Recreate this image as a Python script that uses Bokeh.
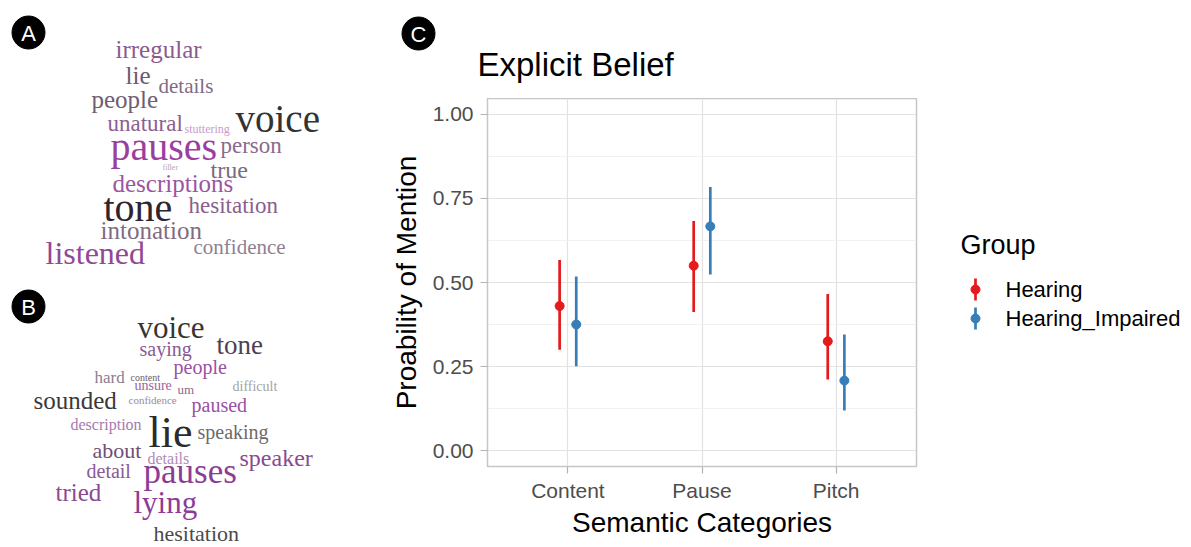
from bokeh.plotting import figure
from bokeh.models import Range1d, FixedTicker, ColumnDataSource, NumeralTickFormatter
from bokeh.transform import dodge
from bokeh.layouts import row, column
from bokeh.embed import file_html
from bokeh.resources import INLINE
from bokeh.core.properties import value

# ---------------- data ----------------
categories = ["Content", "Pause", "Pitch"]
groups = ["Hearing", "Hearing_Impaired"]
hearing_mean = [0.430, 0.550, 0.325]
hearing_low = [0.300, 0.412, 0.211]
hearing_high = [0.567, 0.683, 0.466]
impaired_mean = [0.375, 0.667, 0.208]
impaired_low = [0.251, 0.524, 0.119]
impaired_high = [0.518, 0.784, 0.345]
y_ticks = [0.0, 0.25, 0.5, 0.75, 1.0]

# word cloud A and its word weights (font px)
words_a = ["irregular", "lie", "details", "people", "unatural", "stuttering", "voice",
           "pauses", "person", "filler", "true", "descriptions", "tone", "hesitation",
           "intonation", "confidence", "listened"]
weight_a = [25, 25, 21, 25, 23, 12, 39, 40, 23, 8, 24, 25, 40, 23, 25, 21, 32]
# word cloud B
words_b = ["voice", "tone", "saying", "people", "hard", "content", "unsure", "um",
           "difficult", "sounded", "confidence", "paused", "description", "lie",
           "speaking", "about", "details", "speaker", "detail", "pauses", "tried",
           "lying", "hesitation"]
weight_b = [31, 27, 20, 20, 17, 10, 14, 13, 14, 25, 11, 20, 16, 44, 20, 22, 16, 24,
            20, 35, 25, 31, 22]

# ---------------- layout (word-cloud placement: left x, baseline y, page pixels) ----------------
pos_a_x = [115, 125, 158, 91, 107, 184, 235, 110, 220, 162, 210, 112, 103, 188, 100, 193, 45]
pos_a_y = [57, 83, 92, 107, 131, 132, 131, 159, 153, 170, 177, 191, 220, 213, 238, 253, 263]
col_a = ["#8b5b8f", "#6e5a6f", "#7f6c82", "#6d5e70", "#8c5e91", "#c79bcc", "#333333",
         "#9a3fa0", "#8a6a8e", "#b4a4b7", "#7b6a7e", "#9b55a3", "#2e2430", "#8a5e8e",
         "#7f6c82", "#8f7f92", "#8e4a96"]
pos_b_x = [137, 216, 139, 173, 94, 130, 134, 177, 232, 33, 128, 191, 70, 148, 197, 92,
           147, 239, 86, 143, 55, 133, 153]
pos_b_y = [337, 353, 355, 373, 383, 380, 390, 393, 391, 408, 403, 411, 429, 447, 438,
           457, 463, 465, 477, 483, 500, 512, 540]
col_b = ["#353535", "#4e4052", "#8b5a96", "#9b4fa3", "#8d7d91", "#6b5b6e", "#9b62a5",
         "#8b6b8f", "#a3a3a3", "#3a3a3a", "#9a8a9d", "#9b4fa3", "#a67aad", "#2b2b2b",
         "#6b6b6b", "#6e4f75", "#b38ab8", "#8a4a93", "#8a5a92", "#8c3c96", "#8b4a93",
         "#8c3c96", "#4a4a4a"]

SANS = "Liberation Sans"
SERIF = "Liberation Serif"
RED = "#e41a1c"
BLUE = "#377eb8"
H = 546
FL, FR, FT, FB = 487, 916, 98, 466          # chart frame edges on the page
MID = 0.33                                   # baseline -> text middle, in em


def mid(base, size):
    return base - MID * size


def blank(w, h, x0, x1, y0, y1):
    f = figure(width=w, height=h, x_range=Range1d(x0, x1), y_range=Range1d(y1, y0),
               x_axis_type=None, y_axis_type=None, output_backend="svg",
               toolbar_location=None, min_border=0)
    f.outline_line_color = None
    f.background_fill_color = "white"
    return f


# ---------------- left: word clouds ----------------
left = blank(378, H, 0, 378, 0, H)
for words, wts, xs, ys, cs in [(words_a, weight_a, pos_a_x, pos_a_y, col_a),
                               (words_b, weight_b, pos_b_x, pos_b_y, col_b)]:
    src = ColumnDataSource(dict(x=xs, y=[mid(y, w) for y, w in zip(ys, wts)], t=words,
                                fs=[f"{w}px" for w in wts], c=cs))
    left.text(x="x", y="y", text="t", text_font_size="fs", text_color="c",
              text_font=value(SERIF), text_align="left", text_baseline="middle",
              source=src)
left.scatter(x=[28, 28], y=[32, 306], size=33, color="black")
left.text(x=[28, 28], y=[33, 307], text=["A", "B"], text_color="white",
          text_font=value(SANS), text_font_size="22px", text_align="center",
          text_baseline="middle")

# ---------------- header above the chart: panel tag and title ----------------
header = blank(552, FT, 378, 930, 0, FT)
header.scatter(x=[418], y=[33], size=33, color="black")
header.text(x=[418], y=[34], text=["C"], text_color="white", text_font=value(SANS),
            text_font_size="22px", text_align="center", text_baseline="middle")
header.text(x=[477], y=[mid(75, 33)], text=["Explicit Belief"], text_color="black",
            text_font=value(SANS), text_font_size="33px", text_align="left",
            text_baseline="middle")

# ---------------- chart ----------------
XR = (0.4, len(categories) + 0.6)
YR = (-0.0476, 1.0476)
p = figure(width=552, height=H - FT, title=None,
           x_range=Range1d(*XR), y_range=Range1d(*YR),
           output_backend="svg", toolbar_location=None,
           min_border_left=FL - 378, min_border_right=930 - FR,
           min_border_top=0, min_border_bottom=H - FB)
p.outline_line_color = "#c6c6c6"
p.outline_line_width = 1.5
p.background_fill_color = "white"

cat_pos = list(range(1, len(categories) + 1))
p.xaxis.ticker = FixedTicker(ticks=cat_pos)
p.xaxis.major_label_overrides = {c: name for c, name in zip(cat_pos, categories)}
p.yaxis.ticker = FixedTicker(ticks=y_ticks, minor_ticks=[0.125, 0.375, 0.625, 0.875])
p.yaxis.formatter = NumeralTickFormatter(format="0.00")
p.xgrid.grid_line_color = "#e2e2e2"
p.xgrid.grid_line_width = 1.2
p.ygrid.grid_line_color = "#e2e2e2"
p.ygrid.grid_line_width = 1.2
p.ygrid.minor_grid_line_color = "#eeeeee"
p.ygrid.minor_grid_line_width = 0.8

for ax in (p.xaxis, p.yaxis):
    ax.axis_line_color = None
    ax.major_tick_line_color = "#b3b3b3"
    ax.major_tick_line_width = 1.2
    ax.major_tick_out = 7
    ax.major_tick_in = 0
    ax.minor_tick_line_color = None
    ax.major_label_text_font = SANS
    ax.major_label_text_font_size = "21px"
    ax.major_label_text_color = "#4d4d4d"
    ax.axis_label_text_font = SANS
    ax.axis_label_text_font_size = "28px"
    ax.axis_label_text_font_style = "normal"
    ax.axis_label_text_color = "black"
p.yaxis.axis_label = "Proability of Mention"
p.xaxis.axis_label = "Semantic Categories"
p.yaxis.major_label_standoff = 7
p.xaxis.major_label_standoff = 5
p.yaxis.axis_label_standoff = 8
p.xaxis.axis_label_standoff = 2

for mean, low, high, color, off in [(hearing_mean, hearing_low, hearing_high, RED, -0.062),
                                    (impaired_mean, impaired_low, impaired_high, BLUE, 0.062)]:
    src = ColumnDataSource(dict(cat=cat_pos, mean=mean, low=low, high=high))
    xd = dodge("cat", off)
    p.segment(x0=xd, y0="low", x1=xd, y1="high", line_color=color, line_width=2.7,
              source=src)
    p.scatter(x=xd, y="mean", size=9, color=color, source=src)

# ---------------- legend ----------------
lg = blank(261, H, 930, 1191, 0, H)
lg.text(x=[960], y=[mid(253, 27)], text=["Group"], text_font=value(SANS),
        text_font_size="27px", text_color="black", text_align="left",
        text_baseline="middle")
key_y = [289, 318]
lg.segment(x0=[975, 975], y0=[y - 11 for y in key_y], x1=[975, 975],
           y1=[y + 11 for y in key_y], line_color=[RED, BLUE], line_width=2.7)
lg.scatter(x=[975, 975], y=key_y, size=9, color=[RED, BLUE])
lg.text(x=[1005, 1005], y=key_y, text=groups, text_font=value(SANS),
        text_font_size="22px", text_color="black", text_align="left",
        text_baseline="middle")

layout = row(left, column(column(header), column(p)), lg)
open("out.html", "w").write(file_html(layout, INLINE))
